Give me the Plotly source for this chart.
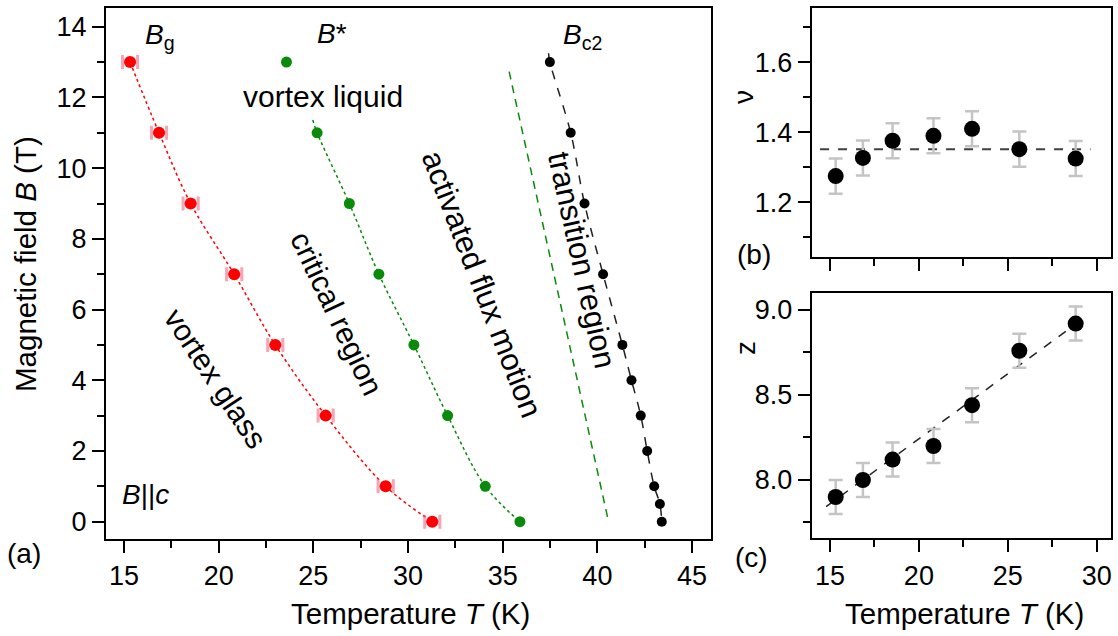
import plotly.graph_objects as go

W, H = 1118, 636
FONT = "Liberation Sans, Arial, sans-serif"

# ---------------- data: panel (a) ----------------
Tg = [15.32, 16.85, 18.52, 20.82, 22.99, 25.65, 28.82, 31.28]
Bg = [13, 11, 9, 7, 5, 3, 1, 0]
Tg_err = [0.4, 0.4, 0.4, 0.4, 0.4, 0.4, 0.4, 0.4]

Tstar = [23.58, 25.2, 26.9, 28.46, 30.31, 32.09, 34.08, 35.91]
Bstar = [13, 11, 9, 7, 5, 3, 1, 0]
# fitted B* curve (dotted), starts a bit above 11 T
Tstar_fit = [24.97, 25.2, 26.9, 28.46, 30.31, 32.09, 34.08, 35.91]
Bstar_fit = [11.36, 11, 9, 7, 5, 3, 1, 0]

Tc2 = [37.49, 38.59, 39.32, 40.3, 41.32, 41.8, 42.29, 42.63, 43.0, 43.3, 43.4]
Bc2 = [13, 11, 9, 7, 5, 4, 3, 2, 1, 0.5, 0]
Tc2_fit = [37.42, 37.49, 38.59, 39.32, 40.3, 41.32, 41.8, 42.29, 42.63, 43.0, 43.3, 43.4]
Bc2_fit = [13.25, 13, 11, 9, 7, 5, 4, 3, 2, 1, 0.5, 0]

# straight green dashed boundary
Tbound = [35.34, 40.59]
Bbound = [12.73, 0.0]

# ---------------- data: panels (b), (c) ----------------
Texp = [15.32, 16.85, 18.52, 20.82, 22.99, 25.65, 28.82]
nu = [1.275, 1.327, 1.376, 1.39, 1.41, 1.352, 1.325]
nu_err = [0.05, 0.05, 0.05, 0.05, 0.05, 0.05, 0.05]
nu_mean_T = [14.44, 29.66]
nu_mean = [1.352, 1.352]

z = [7.90, 8.00, 8.12, 8.20, 8.44, 8.76, 8.92]
z_err = [0.1, 0.1, 0.1, 0.1, 0.1, 0.1, 0.1]
z_fit_T = [14.78, 29.4]
z_fit = [7.843, 8.961]

xticks_main = [15, 20, 25, 30, 35, 40, 45]
yticks_main = [0, 2, 4, 6, 8, 10, 12, 14]
xticks_small = [15, 20, 25, 30]
yticks_nu = [1.2, 1.4, 1.6]
yticks_z = [8.0, 8.5, 9.0]

RED = "#ff0000"
GREEN = "#0a8a0a"

fig = go.Figure()

# panel (a)
fig.add_trace(go.Scatter(x=Tg, y=Bg, mode="lines", line=dict(color=RED, width=1.5, dash="dot", shape="spline"),
                         xaxis="x", yaxis="y", hoverinfo="skip"))
fig.add_trace(go.Scatter(x=Tg, y=Bg, mode="markers", marker=dict(color=RED, size=12),
                         error_x=dict(type="data", array=Tg_err, color="rgba(240,90,120,0.55)", thickness=3, width=7),
                         xaxis="x", yaxis="y"))
fig.add_trace(go.Scatter(x=Tstar_fit, y=Bstar_fit, mode="lines", line=dict(color=GREEN, width=1.5, dash="dot", shape="spline"),
                         xaxis="x", yaxis="y", hoverinfo="skip"))
fig.add_trace(go.Scatter(x=Tstar, y=Bstar, mode="markers", marker=dict(color=GREEN, size=11),
                         xaxis="x", yaxis="y"))
fig.add_trace(go.Scatter(x=Tbound, y=Bbound, mode="lines", line=dict(color=GREEN, width=1.5, dash="8px,6px"),
                         xaxis="x", yaxis="y", hoverinfo="skip"))
fig.add_trace(go.Scatter(x=Tc2_fit, y=Bc2_fit, mode="lines", line=dict(color="#222222", width=1.5, dash="dash", shape="spline"),
                         xaxis="x", yaxis="y", hoverinfo="skip"))
fig.add_trace(go.Scatter(x=Tc2, y=Bc2, mode="markers", marker=dict(color="black", size=10),
                         xaxis="x", yaxis="y"))

# panel (b)
fig.add_trace(go.Scatter(x=nu_mean_T, y=nu_mean, mode="lines", line=dict(color="#404040", width=2, dash="dash"),
                         xaxis="x2", yaxis="y2", hoverinfo="skip"))
fig.add_trace(go.Scatter(x=Texp, y=nu, mode="markers", marker=dict(color="black", size=16),
                         error_y=dict(type="data", array=nu_err, color="#c4c4c4", thickness=2.5, width=7),
                         xaxis="x2", yaxis="y2"))

# panel (c)
fig.add_trace(go.Scatter(x=z_fit_T, y=z_fit, mode="lines", line=dict(color="#222222", width=1.5, dash="dash"),
                         xaxis="x3", yaxis="y3", hoverinfo="skip"))
fig.add_trace(go.Scatter(x=Texp, y=z, mode="markers", marker=dict(color="black", size=16),
                         error_y=dict(type="data", array=z_err, color="#c4c4c4", thickness=2.5, width=7),
                         xaxis="x3", yaxis="y3"))

tickfont = dict(family=FONT, size=27, color="black")

def ax(**kw):
    base = dict(showline=True, linecolor="black", linewidth=2, mirror=True, ticks="outside",
                ticklen=12, tickwidth=2, tickcolor="black", showgrid=False, zeroline=False,
                tickfont=tickfont, fixedrange=True)
    base.update(kw)
    return base

minor_x = dict(ticks="outside", ticklen=7, tickwidth=2, tickcolor="black", dtick=2.5, showgrid=False)

fig.update_layout(
    width=W, height=H, margin=dict(l=0, r=0, t=0, b=0),
    paper_bgcolor="white", plot_bgcolor="white", showlegend=False,
    font=dict(family=FONT, color="black"),
    xaxis=ax(domain=[106/W, 711/W], range=[14.05, 46.0], tickvals=xticks_main, anchor="y",
             minor=minor_x),
    yaxis=ax(domain=[1-539/H, 1-8/H], range=[-0.49, 14.53], tickvals=yticks_main, anchor="x",
             minor=dict(ticks="outside", ticklen=7, tickwidth=2, tickcolor="black", dtick=1, showgrid=False)),
    xaxis2=ax(domain=[811.7/W, 1110.7/W], range=[13.97, 30.79], tickvals=xticks_small, showticklabels=False,
              anchor="y2", minor=minor_x),
    yaxis2=ax(domain=[1-256.7/H, 1-8.3/H], range=[1.045, 1.754], tickvals=yticks_nu, tickformat=".1f",
              anchor="x2", minor=dict(ticks="outside", ticklen=7, tickwidth=2, tickcolor="black", dtick=0.1, showgrid=False)),
    xaxis3=ax(domain=[811.7/W, 1110.7/W], range=[13.97, 30.79], tickvals=xticks_small, anchor="y3",
              minor=minor_x),
    yaxis3=ax(domain=[1-538.3/H, 1-293.3/H], range=[7.657, 9.098], tickvals=yticks_z, tickformat=".1f",
              anchor="x3", minor=dict(ticks="outside", ticklen=7, tickwidth=2, tickcolor="black", dtick=0.25, showgrid=False)),
)

LBL = 30
ann = []
def A(text, x, y, size=LBL, angle=0, xref="x", yref="y", xanchor="center", yanchor="middle"):
    ann.append(dict(text=text, x=x, y=y, xref=xref, yref=yref, showarrow=False, textangle=angle,
                    xanchor=xanchor, yanchor=yanchor, font=dict(family=FONT, size=size, color="black")))

A("<i>B</i><sub>g</sub>", 16.0, 13.72, size=28, xanchor="left")
A("<i>B</i>*", 25.1, 13.8, size=28, xanchor="left")
A("<i>B</i><sub>c2</sub>", 38.1, 13.72, size=28, xanchor="left")
A("vortex liquid", 21.2, 12.02, xanchor="left")
A("vortex glass", 19.85, 4.06, angle=56.5)
A("critical region", 26.23, 5.88, angle=64.7)
A("activated flux motion", 33.9, 6.7, size=31, angle=68.9)
A("transition region", 39.2, 7.40, size=31, angle=77.5)
A("<i>B</i>||<i>c</i>", 14.8, 0.756, size=28, xanchor="left")

# axis titles and panel labels
A("Magnetic field <i>B</i> (T)", 25/W, 1-264/H, size=29.5, angle=-90, xref="paper", yref="paper")
A("Temperature <i>T</i> (K)", 410/W, 1-613/H, size=29.5, xref="paper", yref="paper")
A("Temperature <i>T</i> (K)", 964/W, 1-613/H, size=29.5, xref="paper", yref="paper")
A("ν", 743/W, 1-97/H, size=28, angle=-90, xref="paper", yref="paper")
A("z", 745/W, 1-348/H, size=28, angle=-90, xref="paper", yref="paper")
A("(a)", 5/W, 1-553/H, size=28, xref="paper", yref="paper", xanchor="left")
A("(b)", 735/W, 1-255/H, size=28, xref="paper", yref="paper", xanchor="left")
A("(c)", 733/W, 1-557/H, size=28, xref="paper", yref="paper", xanchor="left")

fig.update_layout(annotations=ann)
fig.write_html("out.html", config={"displayModeBar": False},
               post_script="document.body.style.margin='0px';document.body.style.overflow='hidden';")
